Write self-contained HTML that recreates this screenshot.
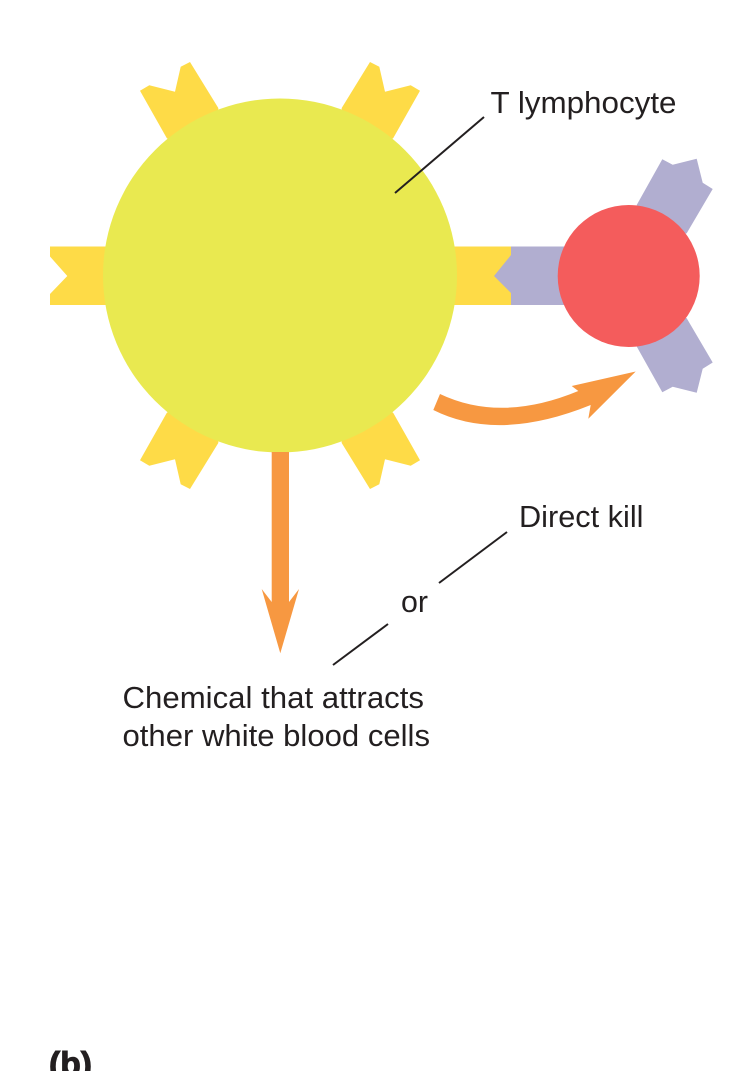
<!DOCTYPE html>
<html><head><meta charset="utf-8"><style>html,body{margin:0;padding:0;background:#fff}svg{display:block}text{font-family:"Liberation Sans",sans-serif;font-size:30.5px;fill:#231f20}</style></head><body>
<svg width="737" height="1071" viewBox="0 0 737 1071" xmlns="http://www.w3.org/2000/svg">
<rect width="737" height="1071" fill="#fff"/>
<g fill="#fedb47">
<polygon points="140,90.7 149.3,85.3 175,91.7 180.7,66.7 190,62 218.3,108 220,180 166.7,138"/>
<polygon points="420,90.7 410.7,85.3 385,91.7 379.3,66.7 370,62 341.7,108 340,180 393.3,138"/>
<polygon points="140,460.3 149.3,465.7 175,459.3 180.7,484.3 190,489 218.3,443 220,371 166.7,413"/>
<polygon points="420,460.3 410.7,465.7 385,459.3 379.3,484.3 370,489 341.7,443 340,371 393.3,413"/>
<polygon points="50,246.5 130,246.5 130,305 50,305 50,294 67.3,276 50,256.5"/>
</g>
<polygon fill="#b1aed0" points="490,246.5 600,246.5 600,305 490,305"/>
<polygon fill="#fedb47" points="430,246.5 511,246.5 511,255 494,276 511,293 511,305 430,305"/>
<g fill="#b1aed0">
<polygon points="662.3,159.3 672.7,164.7 696.7,158.7 702.7,182.7 712.7,189 686.7,233.3 640,250 636.7,205"/>
<polygon points="662.3,392.2 672.7,386.8 696.7,392.8 702.7,368.8 712.7,362.5 686.7,318.2 640,301.5 636.7,346.5"/>
</g>
<circle cx="280" cy="275.5" r="177" fill="#e9e950"/>
<circle cx="628.7" cy="276" r="71" fill="#f45c5c"/>
<path fill="#f79841" d="M440,394 Q501,423 578.3,391 L571.7,386 L635.7,371.5 L588.3,418.7 L590.7,405 Q498,442.5 433.3,410 Z"/>
<polygon fill="#f79841" points="271.7,452 289,452 289,602 299,589 280.3,653.3 261.7,589 271.7,602"/>
<g stroke="#231f20" stroke-width="2" fill="none">
<line x1="395" y1="193" x2="484" y2="117"/>
<line x1="439" y1="583" x2="507" y2="532"/>
<line x1="333" y1="665" x2="388" y2="624"/>
</g>
<text x="490.5" y="113" textLength="186" lengthAdjust="spacingAndGlyphs">T lymphocyte</text>
<text x="519" y="527" textLength="124.5" lengthAdjust="spacingAndGlyphs">Direct kill</text>
<text x="401" y="612" textLength="27" lengthAdjust="spacingAndGlyphs">or</text>
<text x="122.5" y="708" textLength="301.5" lengthAdjust="spacingAndGlyphs">Chemical that attracts</text>
<text x="122.5" y="746" textLength="307.5" lengthAdjust="spacingAndGlyphs">other white blood cells</text>
<text x="49" y="1075" textLength="43" lengthAdjust="spacingAndGlyphs" style="font-weight:bold;font-size:33px;stroke:#231f20;stroke-width:1">(b)</text>
</svg>
</body></html>
